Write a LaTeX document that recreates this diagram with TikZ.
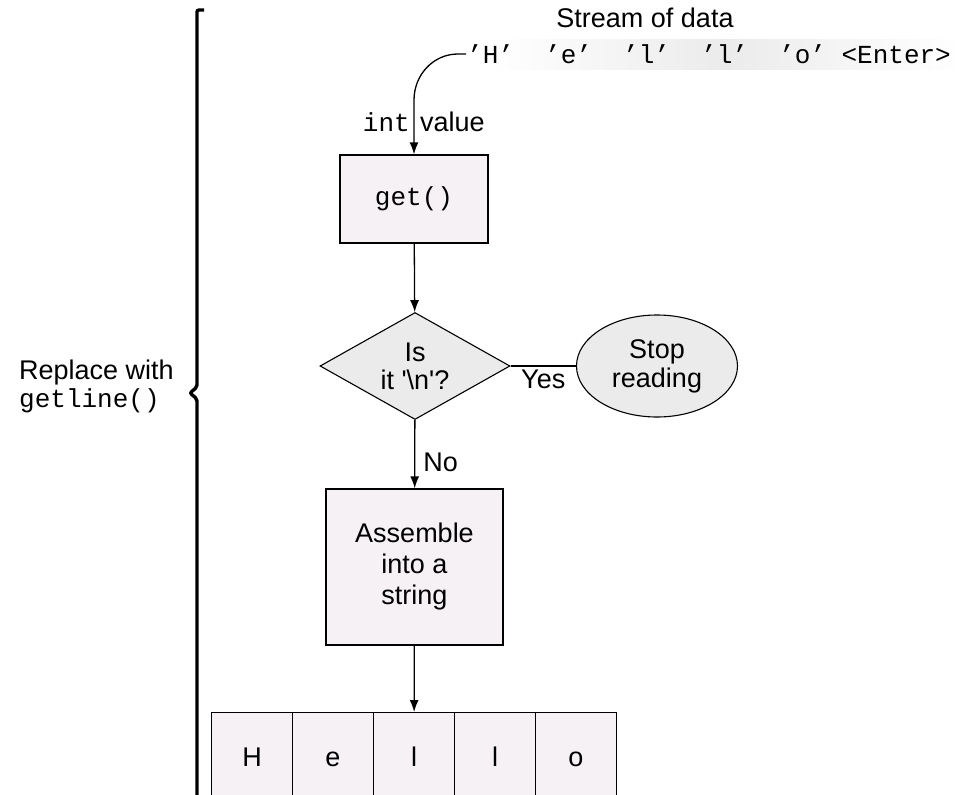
\documentclass[tikz,border=0pt]{standalone}
\usepackage{fontspec}
\setmainfont{Liberation Sans}
\setmonofont{Liberation Mono}
\usetikzlibrary{arrows.meta}
\usetikzlibrary{shapes.geometric}
\definecolor{boxFill}{HTML}{F5F1F5}
\definecolor{greyFill}{HTML}{EBEBEB}
\newcommand{\sq}{\textquotesingle}

\begin{document}
\begin{tikzpicture}[x=1pt,y=-1pt]
\tikzset{
    procBox/.style={
                   draw,
                   line width=1.3pt,
                   fill=boxFill,
                   align=center,
                   font=\fontsize{27}{31}\selectfont
    },
    decisionNode/.style={
                   draw,
                   diamond,
                   aspect=1.8,
                   inner sep=0pt,
                   line width=1.1pt,
                   fill=greyFill,
                   align=center,
                   font=\fontsize{27}{28}\selectfont
    },
    stopNode/.style={
                   draw,
                   ellipse,
                   inner sep=0pt,
                   line width=1.1pt,
                   fill=greyFill,
                   align=center,
                   font=\fontsize{27}{29}\selectfont
    },
    cellNode/.style={
                   draw,
                   line width=1.3pt,
                   fill=boxFill,
                   minimum width=81pt,
                   minimum height=88pt,
                   text height=19pt,
                   text depth=0pt,
                   anchor=north,
                   font=\fontsize{27}{28}\selectfont
    },
    plainText/.style={
                   inner sep=1pt,
                   font=\fontsize{27}{31}\selectfont
    },
    monoText/.style={
                   inner sep=1pt,
                   font=\ttfamily\fontsize{26}{30}\selectfont
    },
    flowArrow/.style={
                   ->,
                   line width=1.3pt,
                   >={Latex[length=12pt,width=9pt]}
    }
}
    \useasboundingbox (0,0) rectangle (961,795);

    % stream of characters at the top
    \node (title)[plainText] at (645,18) {Stream of data};
    \node (band)[shade, left color=white, right color=white, middle color=greyFill,
        minimum width=470pt, minimum height=30pt, inner sep=0pt] at (726,54) {};
    \node (stream)[monoText, anchor=west] at (466,54) {’H’~~’e’~~’l’~~’l’~~’o’~<Enter>};

    % flow chart
    \node (get)[procBox, minimum width=148pt, minimum height=88pt] at (414,199) {\ttfamily\fontsize{26}{30}\selectfont get()};
    \node (test)[decisionNode, minimum width=190pt, minimum height=107pt] at (415,366)
        {Is\\it \sq\textbackslash n\sq?};
    \node (stop)[stopNode, minimum width=161pt, minimum height=102pt] at (657,366) {Stop\\reading};
    \node (build)[procBox, minimum width=177pt, minimum height=156pt] at (414.5,567)
        {Assemble\\into a\\string};

    \node (cellH)[cellNode] at (252,712) {H};
    \node (cellE)[cellNode] at (333,712) {e};
    \node (cellL)[cellNode] at (414,712) {l};
    \node (cellLL)[cellNode] at (495,712) {l};
    \node (cellO)[cellNode] at (576,712) {o};

    \node (intLbl)[monoText, anchor=east] at (411,122) {int};
    \node (valLbl)[plainText, anchor=west] at (419,122) {value};

    \draw[flowArrow] (stream.west) -- ++(-8,0) to[out=180,in=90] (get.north |- 0,100) -- (get.north);
    \draw[flowArrow] (get) -- (test);
    \draw[line width=1.1pt] (test.east) -- node[plainText, below=2pt] {Yes} (stop.west);
    \draw[flowArrow] (test) -- node[plainText, right=7pt, pos=0.62] {No} (build);
    \draw[flowArrow] (build) -- (cellL);

    % brace on the left
    \draw[line width=3.4pt, rounded corners=2pt] (204,10) -- (197,10) -- (197,387) -- (190,393) -- (197,399) -- (197,800);
    \node (replace)[plainText, anchor=west, align=left] at (18,386)
        {Replace with\\[-3pt]{\ttfamily\fontsize{26}{30}\selectfont getline()}};
\end{tikzpicture}
\end{document}
